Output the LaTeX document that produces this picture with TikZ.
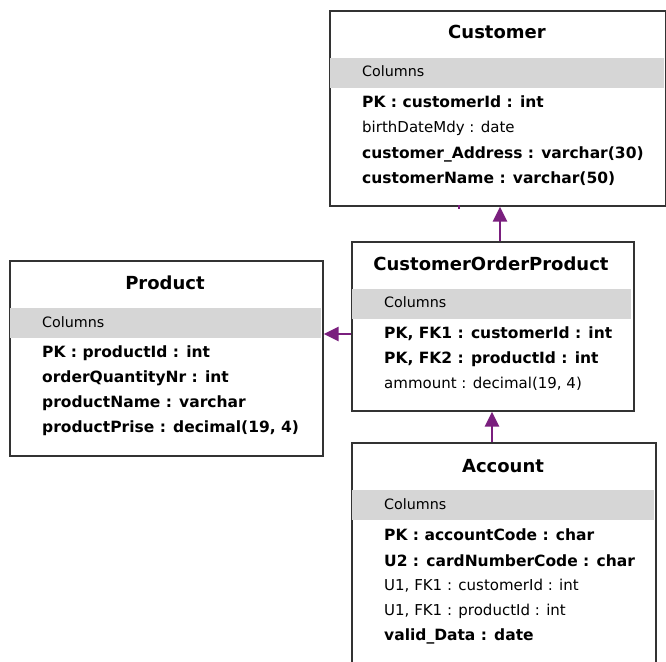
\documentclass[tikz,border=0pt]{standalone}
\usepackage{fontspec}
\setmainfont{DejaVu Sans}
\usetikzlibrary{arrows.meta}
\definecolor{relcol}{HTML}{7A1F7E}
\definecolor{bandcol}{HTML}{D6D6D6}
\definecolor{edgecol}{HTML}{333333}
\tikzset{
  tbl/.style={draw=edgecol, line width=1.7pt, fill=white, rectangle, inner sep=0pt, anchor=north west},
  band/.style={fill=bandcol},
  ttl/.style={font=\fontsize{18}{20}\selectfont\bfseries, anchor=base, inner sep=0pt},
  hdr/.style={font=\fontsize{14.3}{16}\selectfont, anchor=base west, inner sep=0pt},
  col/.style={font=\fontsize{15}{17}\selectfont, anchor=base west, inner sep=0pt},
  key/.style={col, font=\fontsize{15.5}{17}\selectfont\bfseries},
  fk/.style={draw=relcol, line width=2.8pt, -{Triangle[length=15pt,width=14pt]}},
  stub/.style={draw=relcol, line width=2.8pt}
}
\begin{document}
\begin{tikzpicture}[x=1pt,y=-1pt]
\useasboundingbox (0,0) rectangle (666,661);
\fill[white] (0,0) rectangle (666,661);

% Customer
\node[tbl, minimum width=336, minimum height=195] (cust) at (329,10) {};
\fill[band] (330,58) rectangle (664,88);
\node[ttl] (custT) at (497,38) {Customer};
\node[hdr] (custH) at (362,77) {Columns};
\node[key] (cust1) at (362,107) {PK : customerId : int};
\node[col] (cust2) at (362,132) {birthDateMdy : date};
\node[key] (cust3) at (362,158) {customer\_Address : varchar(30)};
\node[key] (cust4) at (362,183) {customerName : varchar(50)};

% CustomerOrderProduct
\node[tbl, minimum width=282, minimum height=169] (cop) at (351,241) {};
\fill[band] (352,289) rectangle (631,319);
\node[ttl] (copT) at (491,270) {CustomerOrderProduct};
\node[hdr] (copH) at (384,307) {Columns};
\node[key] (cop1) at (384,338) {PK, FK1 : customerId : int};
\node[key] (cop2) at (384,363) {PK, FK2 : productId : int};
\node[col] (cop3) at (384,388) {ammount : decimal(19, 4)};

% Product
\node[tbl, minimum width=313, minimum height=195] (prod) at (9,260) {};
\fill[band] (10,308) rectangle (321,338);
\node[ttl] (prodT) at (165,289) {Product};
\node[hdr] (prodH) at (42,327) {Columns};
\node[key] (prod1) at (42,357) {PK : productId : int};
\node[key] (prod2) at (42,382) {orderQuantityNr : int};
\node[key] (prod3) at (42,407) {productName : varchar};
\node[key] (prod4) at (42,432) {productPrise : decimal(19, 4)};

% Account (runs past the lower edge)
\node[tbl, minimum width=304, minimum height=240] (acc) at (351,442) {};
\fill[band] (352,490) rectangle (654,520);
\node[ttl] (accT) at (503,472) {Account};
\node[hdr] (accH) at (384,509) {Columns};
\node[key] (acc1) at (384,540) {PK : accountCode : char};
\node[key] (acc2) at (384,566) {U2 : cardNumberCode : char};
\node[col] (acc3) at (384,590) {U1, FK1 : customerId : int};
\node[col] (acc4) at (384,615) {U1, FK1 : productId : int};
\node[key] (acc5) at (384,640) {valid\_Data : date};

% Relationships
\coordinate (copUp) at (500,241);
\draw[fk] (copUp) -- (copUp |- cust.south);
\coordinate (custStub) at (459,205);
\draw[stub] (custStub) -- ++(0,4);
\coordinate (copLeft) at (340,334);
\draw[fk] (copLeft -| cop.west) -- (copLeft -| prod.east);
\coordinate (accUp) at (492,442);
\draw[fk] (accUp) -- (accUp |- cop.south);
\end{tikzpicture}
\end{document}
